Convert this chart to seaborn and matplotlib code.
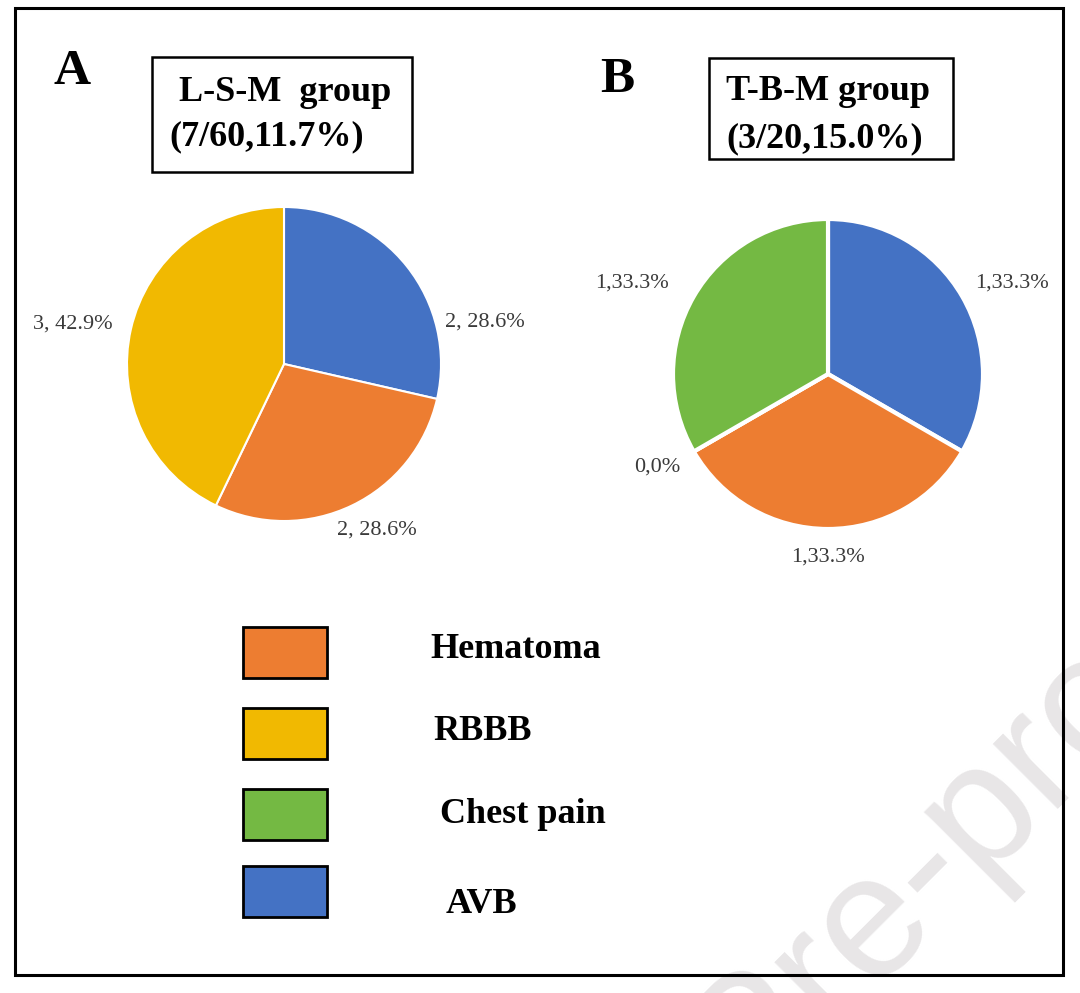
import matplotlib
matplotlib.use("Agg")
import matplotlib.pyplot as plt
from matplotlib.patches import Rectangle
import seaborn as sns

sns.set_theme(style="white")
plt.rcParams['font.family'] = ['Liberation Serif', 'DejaVu Serif']
plt.rcParams['text.color'] = 'black'

# data
categories = ["Hematoma", "RBBB", "Chest pain", "AVB"]
colors = {"Hematoma": "#ED7D31", "RBBB": "#F1B901",
          "Chest pain": "#74B943", "AVB": "#4472C4"}

lsm_cats = ["AVB", "Hematoma", "RBBB"]
lsm_counts = [2, 2, 3]
lsm_labels = ["2, 28.6%", "2, 28.6%", "3, 42.9%"]

tbm_cats = ["AVB", "Hematoma", "RBBB", "Chest pain"]
tbm_counts = [1, 1, 0, 1]
tbm_labels = ["1,33.3%", "1,33.3%", "0,0%", "1,33.3%"]

title_a = ["L-S-M  group", "(7/60,11.7%)"]
title_b = ["T-B-M group", "(3/20,15.0%)"]

W, H = 1080, 993


def Y(y):
    return H - y


fig = plt.figure(figsize=(W / 100, H / 100), dpi=100)
ax = fig.add_axes([0, 0, 1, 1])

# watermark (drawn first, sits under everything)
ax.text(746, Y(1107), "Pre-proof", rotation=45, rotation_mode="anchor",
        ha="left", va="baseline", fontsize=125, color="#e8e6e7",
        family="Liberation Sans", zorder=0)

# pies
ax.pie(lsm_counts, colors=[colors[c] for c in lsm_cats], startangle=90,
       counterclock=False, center=(284, Y(364)), radius=157, frame=True,
       wedgeprops=dict(edgecolor="white", linewidth=1.5))
ax.pie(tbm_counts, colors=[colors[c] for c in tbm_cats], startangle=90,
       counterclock=False, center=(828, Y(374)), radius=155, frame=True,
       wedgeprops=dict(edgecolor="white", linewidth=3))

lsm_pos = [(485, 322), (377, 530), (73, 324)]
tbm_pos = [(1012, 283), (828, 557), (657, 467), (632, 283)]
for txt, (x, y) in zip(lsm_labels + tbm_labels, lsm_pos + tbm_pos):
    ax.text(x, Y(y), txt, ha="center", va="center", fontsize=16, color="#3a3a3a")

# panel letters and title boxes
ax.text(53, Y(84), "A", fontsize=37, fontweight="bold", ha="left", va="baseline")
ax.text(600, Y(92), "B", fontsize=37, fontweight="bold", ha="left", va="baseline")

ax.add_patch(Rectangle((152, Y(172)), 260, 115, fill=False, edgecolor="black", lw=1.8))
ax.add_patch(Rectangle((709, Y(159)), 244, 101, fill=False, edgecolor="black", lw=1.8))
ax.text(179, Y(101), title_a[0], fontsize=26, fontweight="bold", va="baseline")
ax.text(169, Y(145), title_a[1], fontsize=26, fontweight="bold", va="baseline")
ax.text(726, Y(100), title_b[0], fontsize=26, fontweight="bold", va="baseline")
ax.text(726, Y(147), title_b[1], fontsize=26, fontweight="bold", va="baseline")

# legend
leg_tops = [627, 708, 789, 866]
leg_text = [(430, 658), (433, 740), (440, 823), (446, 913)]
for cat, top, (tx, ty) in zip(categories, leg_tops, leg_text):
    ax.add_patch(Rectangle((243, Y(top + 51)), 84, 51, facecolor=colors[cat],
                           edgecolor="black", lw=2))
    ax.text(tx, Y(ty), cat, fontsize=26, fontweight="bold", va="baseline")

# outer frame
ax.add_patch(Rectangle((15, Y(975)), 1048, 967, fill=False, edgecolor="black", lw=2.2, zorder=5))

ax.set_xlim(0, W)
ax.set_ylim(0, H)
ax.axis("off")
fig.savefig("out.png", dpi=100, facecolor="white")
